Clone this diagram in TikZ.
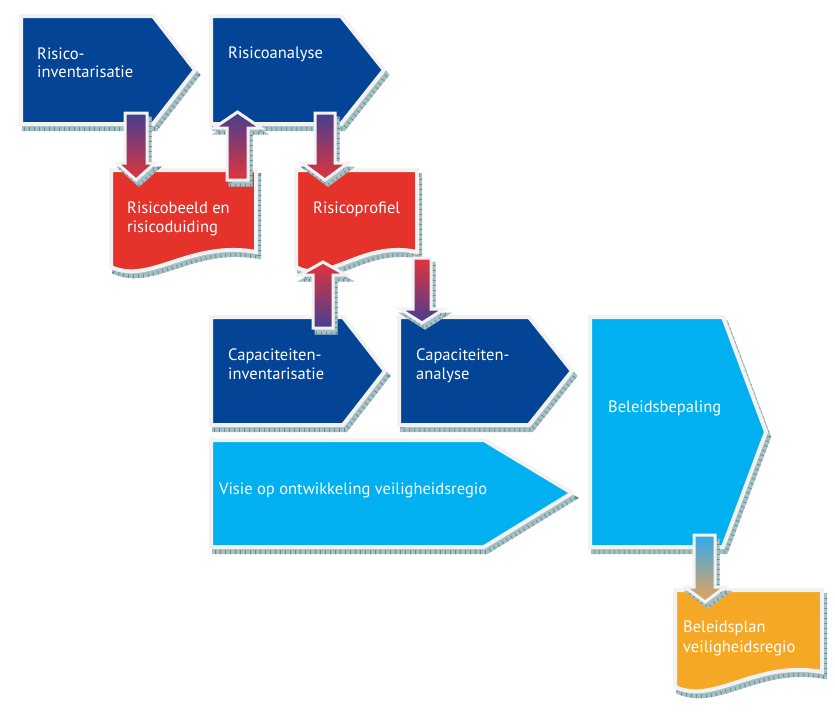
\documentclass[tikz,border=0pt]{standalone}
\usepackage{fontspec}
\setmainfont{PT Sans}
\definecolor{dblue}{RGB}{3,68,150}
\definecolor{rred}{RGB}{229,50,42}
\definecolor{cyanb}{RGB}{0,176,240}
\definecolor{orng}{RGB}{245,168,38}
\definecolor{shc}{RGB}{165,192,196}
\definecolor{shd}{RGB}{105,140,146}
\definecolor{brd}{RGB}{242,242,242}
\definecolor{arblue}{RGB}{70,62,145}
\definecolor{arred}{RGB}{226,52,60}
\definecolor{arcyan}{RGB}{50,170,235}
\definecolor{arorng}{RGB}{232,162,90}
\tikzset{
 tickshadow/.style={
   preaction={draw=shc, fill=shc, line width=#1, transform canvas={xshift=3pt,yshift=-5pt}},
   preaction={draw=shd, line width=#1, dash pattern=on 0.8pt off 4.2pt, transform canvas={xshift=3pt,yshift=-5pt}}},
 shp/.style={tickshadow=4pt, draw=brd, line width=4pt, line join=miter, fill=#1},
 arr/.style 2 args={tickshadow=3pt, draw=brd, line width=3pt, line join=miter, top color=#1, bottom color=#2},
 lbl/.style={text=white, font=\fontsize{16.5}{19}\selectfont, inner sep=0pt, anchor=base west},
}
\begin{document}
\begin{tikzpicture}[x=1pt,y=-1pt]
\useasboundingbox (0,0) rectangle (835,718);
% process shapes
\path[shp=dblue] (21,16) -- (153,16) -- (195,70) -- (153,124) -- (21,124) -- cycle;
\path[shp=dblue] (211,16) -- (341,16) -- (384,70) -- (341,124) -- (211,124) -- cycle;
\path[shp=rred] (111,170) -- (256,170) -- (256,252) .. controls (190,240) and (150,285) .. (111,267) -- cycle;
\path[shp=rred] (296,170) -- (417,170) -- (417,252) .. controls (362,240) and (328,285) .. (296,267) -- cycle;
\path[shp=dblue] (211,317) -- (343,317) -- (385,371) -- (343,425) -- (211,425) -- cycle;
\path[shp=dblue] (399,317) -- (529,317) -- (572,371) -- (529,425) -- (399,425) -- cycle;
\path[shp=cyanb] (211,440) -- (484,440) -- (572,493) -- (484,547) -- (211,547) -- cycle;
\path[shp=cyanb] (590,317) -- (723,317) -- (766,432) -- (723,547) -- (590,547) -- cycle;
\path[shp=orng] (675,590) -- (822,590) -- (822,672) .. controls (755,660) and (715,705) .. (675,687) -- cycle;
% arrows
\path[arr={arblue}{arred}] (125,113) -- (147,113) -- (147,163) -- (155,163) -- (136,180) -- (117,163) -- (125,163) -- cycle;
\path[arr={arblue}{arred}] (227,180) -- (248,180) -- (248,128) -- (261,128) -- (237.5,112) -- (214,128) -- (227,128) -- cycle;
\path[arr={arblue}{arred}] (315,113) -- (335,113) -- (335,163) -- (348,163) -- (325,180) -- (302,163) -- (315,163) -- cycle;
\path[arr={arred}{arblue}] (313,328) -- (333,328) -- (333,275) -- (346,275) -- (323,262) -- (300,275) -- (313,275) -- cycle;
\path[arr={arred}{arblue}] (413,258) -- (431,258) -- (431,309) -- (444,309) -- (422,323) -- (400,309) -- (413,309) -- cycle;
\path[arr={arcyan}{arorng}] (694,535) -- (715,535) -- (715,587) -- (725,587) -- (705,602) -- (685,587) -- (694,587) -- cycle;
% labels
\node[lbl] (t1a) at (37,59) {Risico-};
\node[lbl] (t1b) at (37,77) {inventarisatie};
\node[lbl] (t2) at (228,58) {Risicoanalyse};
\node[lbl] (t3a) at (127,213) {Risicobeeld en};
\node[lbl] (t3b) at (127,232) {risicoduiding};
\node[lbl] (t4) at (313,213) {Risicoprofiel};
\node[lbl] (t5a) at (228,360) {Capaciteiten-};
\node[lbl] (t5b) at (228,379) {inventarisatie};
\node[lbl] (t6a) at (416,360) {Capaciteiten-};
\node[lbl] (t6b) at (416,379) {analyse};
\node[lbl] (t7) at (219,494) {Visie op ontwikkeling veiligheidsregio};
\node[lbl] (t8) at (608,412) {Beleidsbepaling};
\node[lbl] (t9a) at (683,632) {Beleidsplan};
\node[lbl] (t9b) at (683,652) {veiligheidsregio};
\end{tikzpicture}
\end{document}
